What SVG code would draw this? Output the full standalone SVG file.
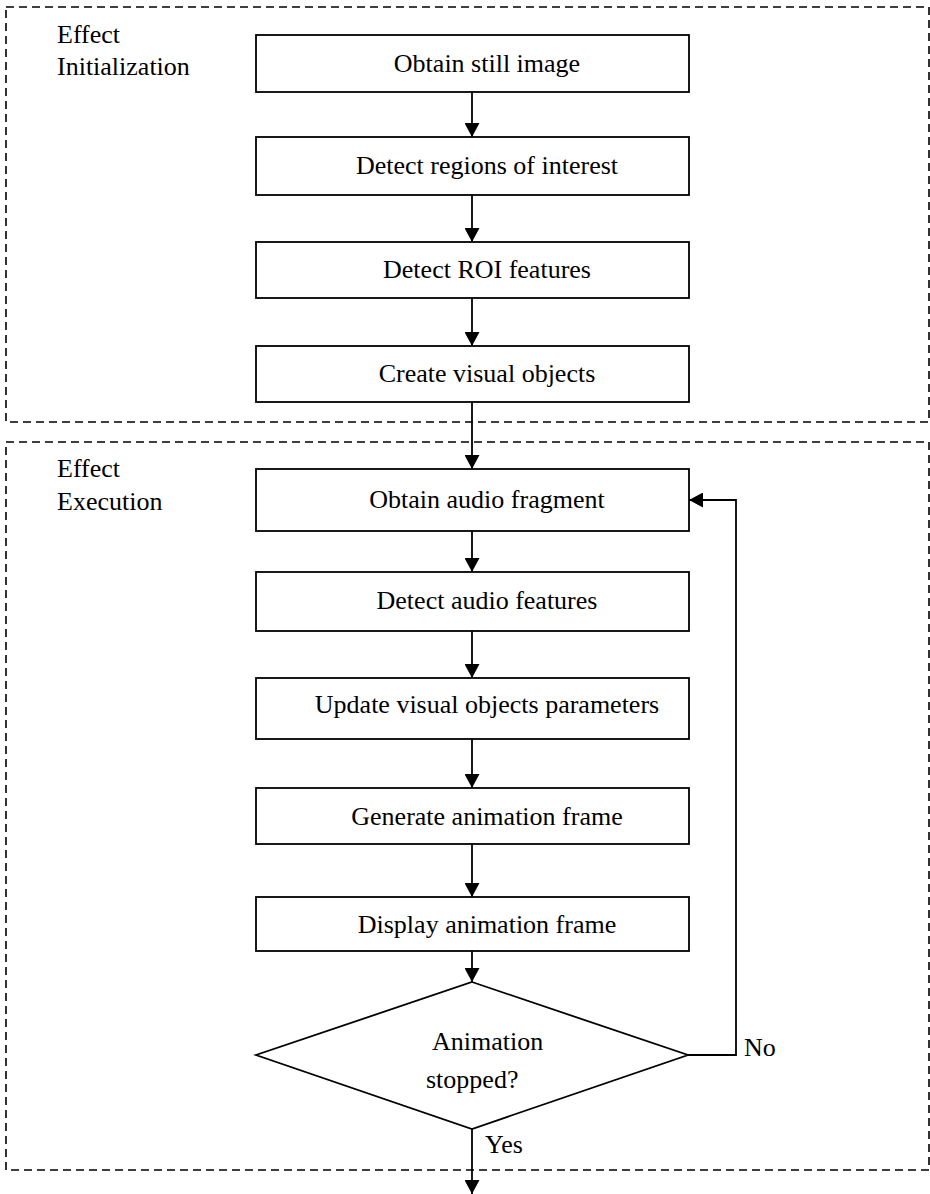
<svg xmlns="http://www.w3.org/2000/svg" width="930" height="1194" viewBox="0 0 930 1194">
<style>
.grp{fill:none;stroke:#000;stroke-width:1.6;stroke-dasharray:8 5}
.box{fill:#fff;stroke:#000;stroke-width:1.8}
.t{font-family:"Liberation Serif","Times New Roman",serif;font-size:26px;fill:#000}
.c{text-anchor:middle}
.ln{fill:none;stroke:#000;stroke-width:1.8}
</style>
<defs>
<marker id="ah" markerUnits="userSpaceOnUse" markerWidth="15" markerHeight="15" refX="14" refY="7.5" orient="auto">
<path d="M0,0 L14,7.5 L0,15 z" fill="#000"/>
</marker>
</defs>
<g id="group-init">
<rect class="grp" x="6" y="7" width="923" height="415"/>
<text class="t" x="57" y="43">Effect</text>
<text class="t" x="57" y="75">Initialization</text>
</g>
<g id="group-exec">
<rect class="grp" x="6" y="442" width="923" height="728"/>
<text class="t" x="57" y="477">Effect</text>
<text class="t" x="57" y="510">Execution</text>
</g>
<g id="connectors">
<line class="ln" x1="472" y1="92" x2="472" y2="137" marker-end="url(#ah)"/>
<line class="ln" x1="472" y1="195" x2="472" y2="242" marker-end="url(#ah)"/>
<line class="ln" x1="472" y1="298" x2="472" y2="346" marker-end="url(#ah)"/>
<line class="ln" x1="472" y1="402" x2="472" y2="469" marker-end="url(#ah)"/>
<line class="ln" x1="472" y1="531" x2="472" y2="572" marker-end="url(#ah)"/>
<line class="ln" x1="472" y1="631" x2="472" y2="678" marker-end="url(#ah)"/>
<line class="ln" x1="472" y1="739" x2="472" y2="788" marker-end="url(#ah)"/>
<line class="ln" x1="472" y1="844" x2="472" y2="897" marker-end="url(#ah)"/>
<line class="ln" x1="472" y1="951" x2="472" y2="982" marker-end="url(#ah)"/>
<polyline class="ln" points="688,1055 736,1055 736,500 689,500" marker-end="url(#ah)"/>
<line class="ln" x1="472" y1="1129" x2="472" y2="1194" marker-end="url(#ah)"/>
<text class="t" x="744" y="1056">No</text>
<text class="t" x="485" y="1153">Yes</text>
</g>
<g id="n1"><rect class="box" x="256" y="35" width="433" height="57"/><text class="t c" x="487" y="72">Obtain still image</text></g>
<g id="n2"><rect class="box" x="256" y="137" width="433" height="58"/><text class="t c" x="487" y="174">Detect regions of interest</text></g>
<g id="n3"><rect class="box" x="256" y="242" width="433" height="56"/><text class="t c" x="487" y="278">Detect ROI features</text></g>
<g id="n4"><rect class="box" x="256" y="346" width="433" height="56"/><text class="t c" x="487" y="382">Create visual objects</text></g>
<g id="n5"><rect class="box" x="256" y="469" width="433" height="62"/><text class="t c" x="487" y="508">Obtain audio fragment</text></g>
<g id="n6"><rect class="box" x="256" y="572" width="433" height="59"/><text class="t c" x="487" y="609">Detect audio features</text></g>
<g id="n7"><rect class="box" x="256" y="678" width="433" height="61"/><text class="t c" x="487" y="713">Update visual objects parameters</text></g>
<g id="n8"><rect class="box" x="256" y="788" width="433" height="56"/><text class="t c" x="487" y="825">Generate animation frame</text></g>
<g id="n9"><rect class="box" x="256" y="897" width="433" height="54"/><text class="t c" x="487" y="933">Display animation frame</text></g>
<g id="n10"><polygon class="box" points="472,982 688,1055 472,1129 256,1055"/>
<text class="t" x="432" y="1050">Animation</text>
<text class="t" x="426" y="1088">stopped?</text></g>
</svg>
